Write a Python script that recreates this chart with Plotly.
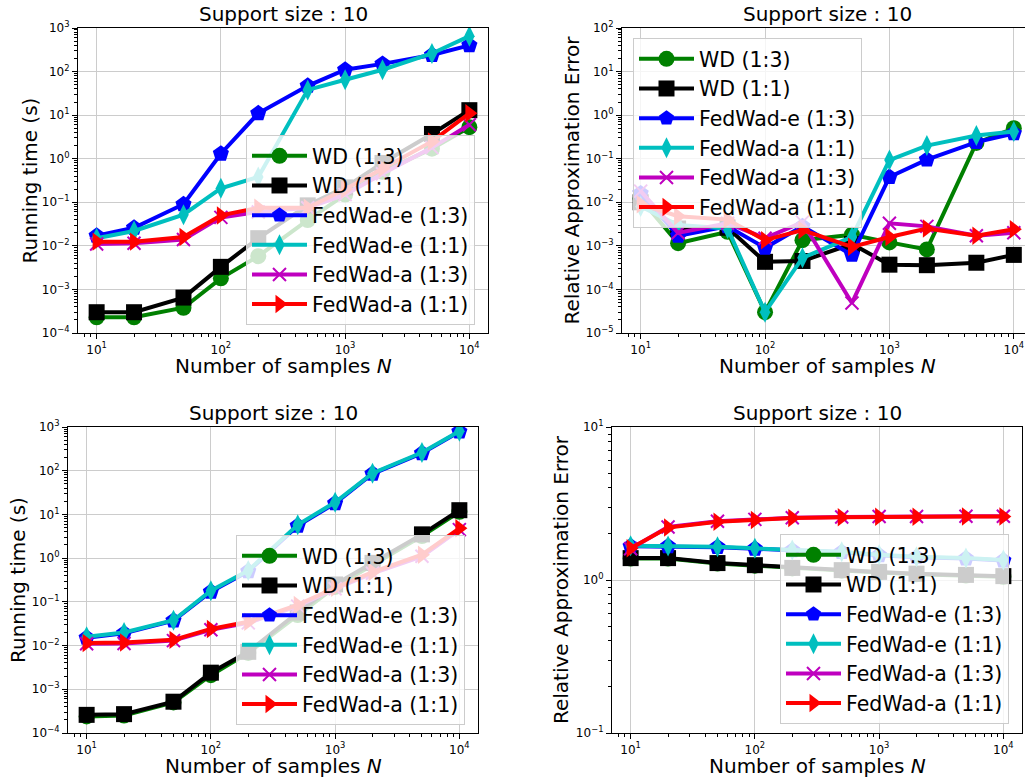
import plotly.graph_objects as go

# ---------------- data ----------------
N = [10, 20, 50, 100, 200, 500, 1000, 2000, 5000, 10000]

labels = ["WD (1:3)", "WD (1:1)", "FedWad-e (1:3)", "FedWad-e (1:1)",
          "FedWad-a (1:3)", "FedWad-a (1:1)"]
labels_tr = ["WD (1:3)", "WD (1:1)", "FedWad-e (1:3)", "FedWad-a (1:1)",
             "FedWad-a (1:3)", "FedWad-a (1:1)"]

# top-left: running time
tl_wd13 = [2.3e-4, 2.3e-4, 3.8e-4, 1.8e-3, 5.8e-3, 0.039, 0.15, 0.5, 1.7, 5.3]
tl_wd11 = [3.0e-4, 3.0e-4, 6.5e-4, 3.3e-3, 0.015, 0.085, 0.22, 0.8, 3.7, 13]
tl_fe13 = [0.017, 0.026, 0.09, 1.3, 11, 47, 110, 150, 240, 400]
tl_fe11 = [0.015, 0.022, 0.052, 0.21, 0.38, 38, 65, 110, 260, 650]
tl_fa13 = [0.011, 0.0115, 0.014, 0.045, 0.06, 0.075, 0.15, 0.45, 1.8, 6]
tl_fa11 = [0.0125, 0.0125, 0.016, 0.05, 0.075, 0.075, 0.2, 0.6, 2.5, 11]

# top-right: relative approximation error
tr_wd13 = [0.012, 1.15e-3, 2.1e-3, 3e-5, 1.35e-3, 1.8e-3, 1.2e-3, 8.3e-4, 0.23, 0.5]
tr_wd11 = [0.01, 2.5e-3, 2.6e-3, 4.3e-4, 4.5e-4, 1.1e-3, 3.7e-4, 3.6e-4, 4.1e-4, 6.2e-4]
tr_fe13 = [0.016, 1.7e-3, 2.8e-3, 9e-4, 2.8e-3, 6.2e-4, 0.038, 0.095, 0.24, 0.38]
tr_fe11 = [0.008, 3e-3, 2.5e-3, 3e-5, 5.3e-4, 1.6e-3, 0.093, 0.2, 0.34, 0.42]
tr_fa13 = [0.018, 2e-3, 3.3e-3, 1.5e-3, 3.5e-3, 4.9e-5, 3.3e-3, 2.8e-3, 1.7e-3, 2e-3]
tr_fa11 = [0.009, 4.8e-3, 4e-3, 1.35e-3, 2.3e-3, 9.5e-4, 1.6e-3, 2.5e-3, 1.7e-3, 2.4e-3]

# bottom-left: running time
bl_wd13 = [2.4e-4, 2.5e-4, 5e-4, 2.1e-3, 6.8e-3, 0.05, 0.22, 0.7, 3.2, 11.5]
bl_wd11 = [2.6e-4, 2.7e-4, 5.2e-4, 2.4e-3, 7.2e-3, 0.057, 0.25, 0.78, 3.5, 12.5]
bl_fe13 = [0.015, 0.019, 0.037, 0.17, 0.5, 5.5, 18, 85, 250, 780]
bl_fe11 = [0.016, 0.02, 0.038, 0.18, 0.52, 5.8, 19, 88, 260, 800]
bl_fa13 = [0.011, 0.0112, 0.013, 0.023, 0.033, 0.08, 0.2, 0.45, 1.1, 4.5]
bl_fa11 = [0.0115, 0.0118, 0.0135, 0.024, 0.035, 0.085, 0.21, 0.48, 1.2, 4.8]

# bottom-right: relative approximation error
br_wd13 = [1.38, 1.38, 1.28, 1.24, 1.19, 1.15, 1.12, 1.09, 1.07, 1.05]
br_wd11 = [1.39, 1.39, 1.29, 1.25, 1.2, 1.16, 1.13, 1.1, 1.08, 1.06]
br_fe13 = [1.66, 1.66, 1.64, 1.6, 1.56, 1.52, 1.45, 1.41, 1.38, 1.34]
br_fe11 = [1.675, 1.67, 1.65, 1.61, 1.57, 1.53, 1.46, 1.42, 1.39, 1.35]
br_fa13 = [1.6, 2.22, 2.42, 2.49, 2.55, 2.58, 2.6, 2.6, 2.61, 2.61]
br_fa11 = [1.61, 2.2, 2.4, 2.47, 2.54, 2.57, 2.59, 2.59, 2.6, 2.6]

# ---------------- styles ----------------
FONT = "DejaVu Sans"
styles = [
    dict(color="#008000", symbol="circle", size=16),
    dict(color="#000000", symbol="square", size=16),
    dict(color="#0000ff", symbol="pentagon", size=17),
    dict(color="#00bfbf", symbol="diamond-tall", size=15),
    dict(color="#bf00bf", symbol="x-thin", size=13),
    dict(color="#ff0000", symbol="triangle-right", size=16),
]

W, H = 1025, 780


def px_x(p):
    return p / W


def px_y(p):
    return 1 - p / H


panels = [
    dict(xa="x", ya="y", leg="legend", labels=labels,
         series=[tl_wd13, tl_wd11, tl_fe13, tl_fe11, tl_fa13, tl_fa11],
         xdom=[78, 488], ydom=[28, 333], xr=[0.85, 4.15], yr=[-4, 3],
         ylabel="Running time (s)", ylx=29,
         legpos=(246, 135)),
    dict(xa="x2", ya="y2", leg="legend2", labels=labels_tr,
         series=[tr_wd13, tr_wd11, tr_fe13, tr_fe11, tr_fa13, tr_fa11],
         xdom=[622, 1025], ydom=[28, 333], xr=[0.85, 4.09], yr=[-5, 2],
         ylabel="Relative Approximation Error", ylx=571,
         legpos=(633, 38)),
    dict(xa="x3", ya="y3", leg="legend3", labels=labels,
         series=[bl_wd13, bl_wd11, bl_fe13, bl_fe11, bl_fa13, bl_fa11],
         xdom=[68, 478], ydom=[427, 733], xr=[0.85, 4.15], yr=[-4, 3],
         ylabel="Running time (s)", ylx=18,
         legpos=(236, 535)),
    dict(xa="x4", ya="y4", leg="legend4", labels=labels,
         series=[br_wd13, br_wd11, br_fe13, br_fe11, br_fa13, br_fa11],
         xdom=[612, 1022], ydom=[427, 733], xr=[0.85, 4.15], yr=[-1, 1],
         ylabel="Relative Approximation Error", ylx=561,
         legpos=(780, 534)),
]

fig = go.Figure()
layout = dict(width=W, height=H,
              margin=dict(l=0, r=0, t=0, b=0, pad=0, autoexpand=False),
              paper_bgcolor="white", plot_bgcolor="white",
              font=dict(family=FONT, color="black"), annotations=[])


def sup(e):
    return "10<sup>%s</sup>" % (str(e) if e >= 0 else "\u2212" + str(-e))


for i, p in enumerate(panels):
    for lab, ys, st in zip(p["labels"], p["series"], styles):
        marker = dict(symbol=st["symbol"], size=st["size"], color=st["color"],
                      line=dict(color=st["color"], width=2 if st["symbol"] == "x-thin" else 0))
        fig.add_trace(go.Scatter(
            x=N, y=ys, name=lab, mode="lines+markers",
            line=dict(color=st["color"], width=4),
            marker=marker, xaxis=p["xa"], yaxis=p["ya"], legend=p["leg"]))

    suffix = "" if i == 0 else str(i + 1)
    xdec = list(range(1, 5))
    ydec = list(range(p["yr"][0], p["yr"][1] + 1))
    xminor = [k * 10 ** e for e in range(0, 5) for k in range(2, 10)]
    yminor = [k * 10.0 ** e for e in range(p["yr"][0], p["yr"][1]) for k in range(2, 10)]
    common = dict(type="log", showgrid=True, gridcolor="#cccccc", gridwidth=1,
                  showline=True, linecolor="black", linewidth=1.2,
                  ticks="outside", ticklen=5, tickwidth=1, tickcolor="black",
                  tickfont=dict(size=12, family=FONT, color="black"),
                  zeroline=False, tickmode="array", automargin=False)
    layout["xaxis" + suffix] = dict(
        common, domain=[px_x(p["xdom"][0]), min(1.0, px_x(p["xdom"][1]))], range=p["xr"],
        anchor="y" + suffix, mirror=True,
        tickvals=[10 ** e for e in xdec], ticktext=[sup(e) for e in xdec],
        minor=dict(tickmode="array", tickvals=xminor, ticks="outside", ticklen=3,
                   tickcolor="black", showgrid=False))
    layout["yaxis" + suffix] = dict(
        common, domain=[px_y(p["ydom"][1]), px_y(p["ydom"][0])], range=p["yr"],
        anchor="x" + suffix, mirror=(i != 1),
        tickvals=[10.0 ** e for e in ydec], ticktext=[sup(e) for e in ydec],
        minor=dict(tickmode="array", tickvals=yminor, ticks="outside", ticklen=3,
                   tickcolor="black", showgrid=False))

    lx, ly = p["legpos"]
    layout[p["leg"]] = dict(x=px_x(lx), y=px_y(ly), xanchor="left", yanchor="top",
                            xref="paper", yref="paper",
                            bgcolor="rgba(255,255,255,0.8)", bordercolor="#cccccc",
                            borderwidth=1, font=dict(size=20.5, family=FONT, color="black"),
                            itemwidth=55, tracegroupgap=0)

    # centre of the full (unclipped) axes box
    full_right = p["xdom"][0] + 410
    cx = (p["xdom"][0] + full_right) / 2
    top = p["ydom"][0]
    bottom = p["ydom"][1]
    layout["annotations"].append(dict(
        text="Support size : 10", x=px_x(cx), y=px_y(top - 14), xref="paper", yref="paper",
        showarrow=False, xanchor="center", yanchor="middle",
        font=dict(size=20, family=FONT, color="black")))
    layout["annotations"].append(dict(
        text="Number of samples <i>N</i>", x=px_x(cx), y=px_y(bottom + 33),
        xref="paper", yref="paper", showarrow=False, xanchor="center", yanchor="middle",
        font=dict(size=20, family=FONT, color="black")))
    layout["annotations"].append(dict(
        text=p["ylabel"], x=px_x(p["ylx"]), y=px_y((top + bottom) / 2),
        xref="paper", yref="paper", showarrow=False, textangle=-90,
        xanchor="center", yanchor="middle",
        font=dict(size=20, family=FONT, color="black")))

fig.update_layout(**layout)
# place the figure flush with the window's top-left corner (no default page margin)
fig.write_html("out.html",
               config={"displayModeBar": False},
               post_script="document.body.style.margin='0';document.body.style.overflow='hidden';")
